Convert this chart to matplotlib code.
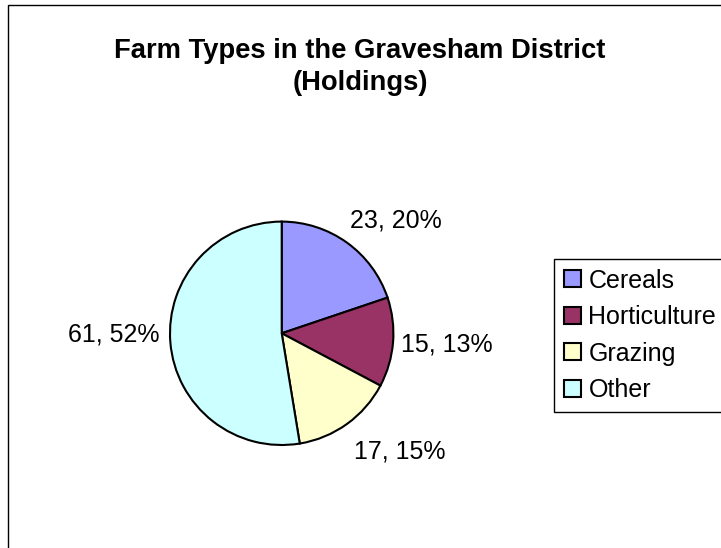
import matplotlib.pyplot as plt
from matplotlib.patches import Rectangle

plt.rcParams['font.family'] = ['Liberation Sans', 'DejaVu Sans']

# holdings by farm type
categories = ['Cereals', 'Horticulture', 'Grazing', 'Other']
holdings = [23, 15, 17, 61]
percents = [20, 13, 15, 52]
colors = ['#9999FF', '#993366', '#FFFFCC', '#CCFFFF']

# where each data label sits, in pie-radius units (x centre, baseline)
label_pos = [(1.02, 0.95), (1.48, -0.165), (1.06, -1.12), (-1.50, -0.07)]

W, H = 721, 548
fig = plt.figure(figsize=(W / 100, H / 100), dpi=100)

# chart area outline
fig.add_artist(Rectangle((8 / W, -0.05), 1.2, (H - 5) / H + 0.05,
                         transform=fig.transFigure, fill=False,
                         edgecolor='black', linewidth=1.0))

fig.text(360 / W, 1 - 58 / H, 'Farm Types in the Gravesham District',
         ha='center', va='baseline', fontsize=19.7, fontweight='bold')
fig.text(360 / W, 1 - 90 / H, '(Holdings)',
         ha='center', va='baseline', fontsize=19.7, fontweight='bold')

cx, cy, r = 281.7, 333.3, 111.7
ax = fig.add_axes([(cx - r) / W, (H - cy - r) / H, 2 * r / W, 2 * r / H])
wedges, _ = ax.pie(holdings, colors=colors, startangle=90, counterclock=False,
                   wedgeprops=dict(edgecolor='black', linewidth=1.5, clip_on=False))
ax.set_xlim(-1, 1)
ax.set_ylim(-1, 1)
ax.axis('off')

for (x, y), n, p in zip(label_pos, holdings, percents):
    ax.text(x, y, f'{n}, {p}%', ha='center', va='baseline', fontsize=18)

leg = fig.legend(wedges, categories, loc='upper left',
                 bbox_to_anchor=(554 / W, 1 - 259 / H), bbox_transform=fig.transFigure,
                 borderaxespad=0, frameon=True, fancybox=False, framealpha=1,
                 edgecolor='black', fontsize=18, handlelength=0.68, handleheight=0.68,
                 handletextpad=0.32, labelspacing=0.5, borderpad=0.38)
leg.get_frame().set_linewidth(1.0)

fig.savefig('out.png', dpi=100)
